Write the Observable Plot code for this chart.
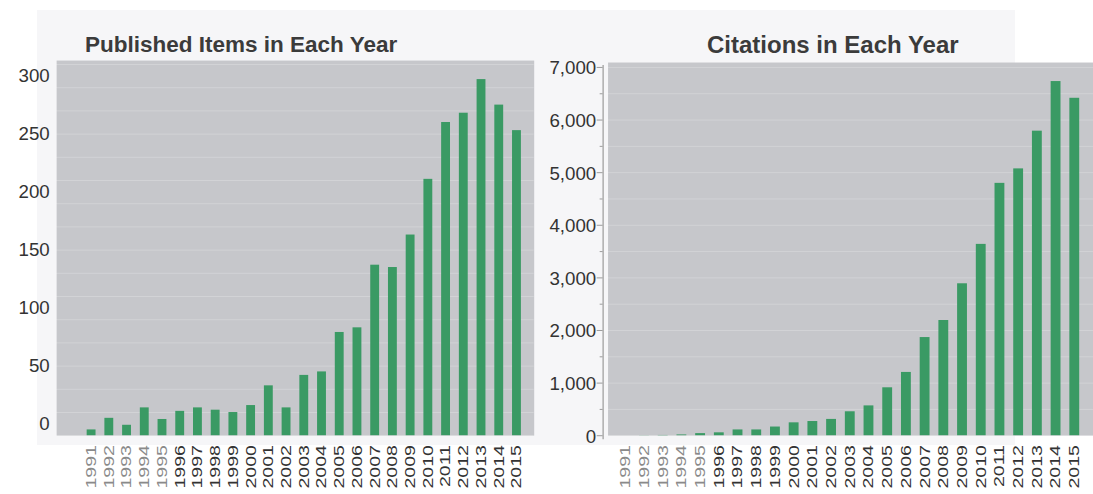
<!DOCTYPE html>
<html>
<head>
<meta charset="utf-8">
<script src="https://cdn.jsdelivr.net/npm/d3@7"></script>
<script src="https://cdn.jsdelivr.net/npm/@observablehq/plot@0.6"></script>
<style>
html, body { margin: 0; padding: 0; width: 1093px; height: 494px; overflow: hidden; background: #ffffff; }
#wrap { position: relative; width: 1093px; height: 494px; overflow: hidden; }
.panel { position: absolute; left: 37px; top: 10px; width: 978px; height: 435px; background: #f6f6f8; }
.title { position: absolute; font-family: "Liberation Sans", Arial, sans-serif; font-weight: bold; color: #3b3b3b; white-space: nowrap; line-height: 1; }
.chart { position: absolute; left: 0; top: 0; }
</style>
</head>
<body>
<div id="wrap">
  <div class="panel"></div>
  <div class="title" style="left:85px; top:34px; font-size:22.5px;">Published Items in Each Year</div>
  <div class="title" style="left:707px; top:33px; font-size:24px;">Citations in Each Year</div>
  <div class="chart" id="c1"></div>
  <div class="chart" id="c2"></div>
</div>
<script>
// ---- data ----
const years = ["1991","1992","1993","1994","1995","1996","1997","1998","1999","2000",
               "2001","2002","2003","2004","2005","2006","2007","2008","2009","2010",
               "2011","2012","2013","2014","2015"];
const publishedItems = [5, 15, 9, 24, 14, 21, 24, 22, 20, 26,
                        43, 24, 52, 55, 89, 93, 147, 145, 173, 221,
                        270, 278, 307, 285, 263];
const citations = [0, 2, 5, 15, 40, 55, 110, 110, 165, 245,
                   270, 310, 455, 567, 911, 1203, 1866, 2190, 2888, 3637,
                   4797, 5072, 5789, 6732, 6414];
const leftTicks = [0, 50, 100, 150, 200, 250, 300];
const rightTicks = [0, 1000, 2000, 3000, 4000, 5000, 6000, 7000];
const rightMinorTicks = [500, 1500, 2500, 3500, 4500, 5500, 6500];

// ---- style ----
const GRAY = "#c6c7cb";
const GREEN = "#3a9a64";
const FONT = "'Liberation Sans', Arial, sans-serif";

const leftData = years.map((y, i) => ({year: y, value: publishedItems[i]}));
const rightData = years.map((y, i) => ({year: y, value: citations[i]}));

function stretchXLabels(svg) {
  d3.select(svg).selectAll('g[aria-label="x-axis tick label"] text').each(function(d, i) {
    const t = this.getAttribute("transform") || "";
    this.setAttribute("transform", t + " scale(1.42,1)");
    if (i < 5) this.setAttribute("fill", "#8a8a8a");
  });
}

const W = 1110, H = 494;

const p1 = Plot.plot({
  width: W, height: H,
  marginLeft: 57, marginRight: W - 542, marginTop: 61, marginBottom: H - 442,
  style: {fontFamily: FONT, fontSize: "19px", color: "#333", background: "transparent", overflow: "visible"},
  x: {type: "band", domain: years, range: [77.5, 540], paddingInner: 0.49, paddingOuter: 0.245, label: null},
  y: {domain: [0, 323.4], label: null},
  marks: [
    Plot.frame({fill: GRAY, stroke: null}),
    Plot.gridY(d3.range(0, 321, 20), {stroke: "#ffffff", strokeOpacity: 0.22}),
    Plot.barY(leftData, {x: "year", y: "value", fill: GREEN}),
    Plot.axisY(leftTicks, {tickSize: 0, tickPadding: 7, dy: -12, fontSize: 19, fill: "#333", label: null}),
    Plot.axisX({tickRotate: -90, tickSize: 0, tickPadding: 9.5, fontSize: 14, fill: "#333", label: null})
  ]
});
stretchXLabels(p1);
document.getElementById("c1").appendChild(p1);

const p2 = Plot.plot({
  width: W, height: H,
  marginLeft: 612, marginRight: 0, marginTop: 63, marginBottom: H - 442,
  style: {fontFamily: FONT, fontSize: "19px", color: "#333", background: "transparent", overflow: "visible"},
  x: {type: "band", domain: years, range: [623.4, 1101.7], paddingInner: 0.49, paddingOuter: 0.245, label: null},
  y: {domain: [0, 7000], range: [442, 68], label: null},
  marks: [
    Plot.frame({fill: GRAY, stroke: null, insetLeft: 5}),
    Plot.gridY(d3.range(0, 7001, 500), {stroke: "#ffffff", strokeOpacity: 0.22}),
    Plot.barY(rightData, {x: "year", y: "value", fill: GREEN}),
    Plot.axisY(rightTicks, {tickSize: 6, tickFormat: () => "", stroke: "#9a9a9a", label: null}),
    Plot.axisY(rightMinorTicks, {tickSize: 3, tickFormat: () => "", stroke: "#9a9a9a", label: null}),
    Plot.axisY(rightTicks, {tickSize: 0, tickPadding: 7, dy: 1, tickFormat: d3.format(","), fontSize: 19, fill: "#333", label: null}),
    Plot.axisX({tickRotate: -90, tickSize: 0, tickPadding: 9.5, fontSize: 14, fill: "#333", label: null})
  ]
});
stretchXLabels(p2);
// axis line along the left edge of the citations chart
{
  const ys = p2.scale("y");
  d3.select(p2).append("line")
    .attr("x1", 612.5).attr("x2", 612.5)
    .attr("y1", ys.apply(0) + 4).attr("y2", ys.apply(7000) - 2)
    .attr("stroke", "#9a9a9a").attr("stroke-width", 1.2);
}
document.getElementById("c2").appendChild(p2);
</script>
</body>
</html>
